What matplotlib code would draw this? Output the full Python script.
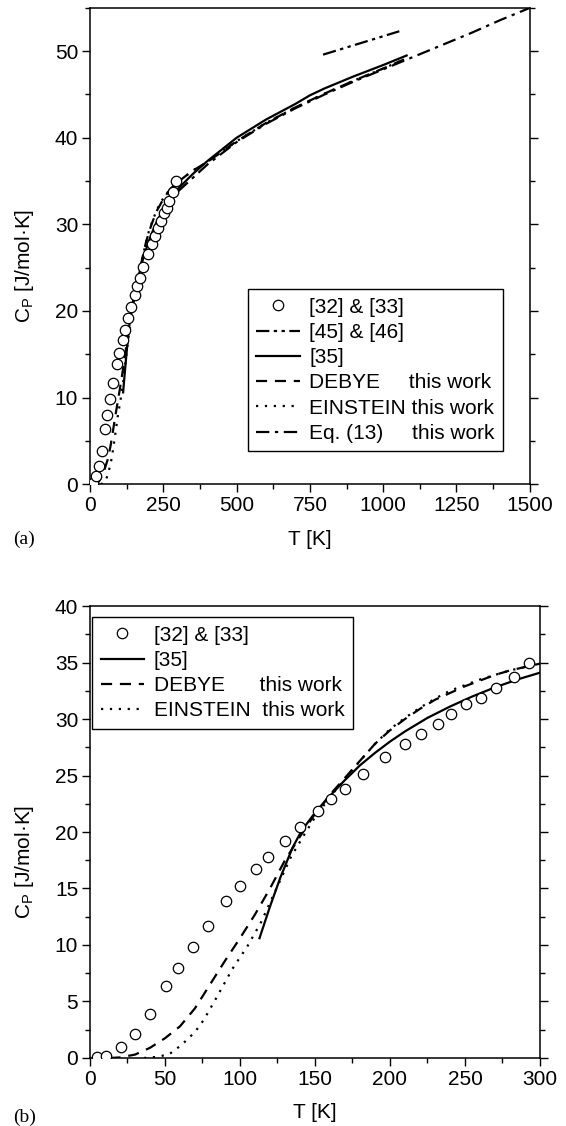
import numpy as np
import matplotlib
matplotlib.use("Agg")
from matplotlib import pyplot as plt
from matplotlib.ticker import MultipleLocator

plt.rcParams['font.family'] = ['Liberation Sans', 'DejaVu Sans']
plt.rcParams['mathtext.fontset'] = 'custom'
plt.rcParams['mathtext.rm'] = 'Liberation Sans'

# Data: experimental points [32] & [33]
exp_T = [5, 11, 21, 30, 40, 51, 59, 69, 79, 91, 100, 111, 119, 130, 140, 152,
         161, 170, 182, 197, 210, 221, 232, 241, 251, 261, 271, 283, 293]
exp_Cp = [0.06, 0.19, 0.96, 2.1, 3.85, 6.35, 7.98, 9.8, 11.7, 13.85, 15.2,
          16.7, 17.8, 19.2, 20.45, 21.9, 22.9, 23.8, 25.1, 26.6, 27.75, 28.7,
          29.6, 30.4, 31.3, 31.9, 32.7, 33.7, 35.0]

# [35]
ref35_T = [113, 120, 127, 135, 141, 150, 160, 170, 180, 190, 200, 210, 225,
           240, 255, 270, 285, 300, 350, 400, 500, 600, 700, 750, 800, 900,
           1000, 1080]
ref35_Cp = [10.6, 13.4, 16.0, 18.6, 20.1, 21.7, 23.2, 24.6, 25.9, 27.0, 28.0,
            28.9, 30.1, 31.1, 32.0, 32.8, 33.5, 34.1, 35.8, 37.3, 40.0, 42.1,
            43.9, 44.9, 45.7, 47.1, 48.4, 49.5]

# DEBYE (this work)
debye_T = [13, 20, 30, 40, 50, 60, 70, 80, 90, 100, 110, 120, 130, 140, 150,
           160, 170, 180, 190, 200, 210, 220, 230, 240, 250, 260, 270, 280,
           290, 300, 350, 400, 500, 600, 700, 800, 900, 1000, 1075]
debye_Cp = [0.0, 0.05, 0.3, 0.9, 1.75, 2.8, 4.4, 6.5, 8.6, 10.6, 12.7, 15.0,
            17.5, 19.6, 21.6, 23.3, 24.8, 26.3, 27.8, 29.0, 30.0, 30.9, 31.7,
            32.3, 32.9, 33.4, 33.9, 34.3, 34.6, 34.9, 36.2, 37.2, 39.6, 41.7,
            43.5, 45.1, 46.6, 48.0, 49.1]

# EINSTEIN (this work)
einstein_T = [36, 45, 53, 61, 70, 76, 85, 95, 105, 114, 124, 134, 143, 150,
              160, 170, 180, 190, 200, 210, 220, 230, 240, 250, 260, 270, 280,
              290, 300, 350, 400, 500, 600, 700, 800, 900, 1000, 1075]
einstein_Cp = [0.0, 0.1, 0.35, 1.15, 2.3, 3.4, 5.5, 7.9, 9.9, 12.0, 14.9,
               17.8, 19.8, 21.3, 23.1, 24.7, 26.3, 27.8, 29.1, 30.1, 31.0,
               31.8, 32.5, 33.0, 33.5, 33.9, 34.3, 34.6, 34.9, 36.2, 37.2,
               39.6, 41.7, 43.5, 45.1, 46.6, 48.0, 49.1]

# Eq. (13) (this work)
eq13_T = [300, 400, 500, 600, 700, 800, 900, 1000, 1100, 1200, 1300, 1400, 1500]
eq13_Cp = [33.8, 36.9, 39.5, 41.6, 43.4, 45.0, 46.5, 47.9, 49.3, 50.7, 52.1,
           53.6, 55.0]

# [45] & [46]
ref45_T = [795, 1055]
ref45_Cp = [49.6, 52.3]

FS = 15
LW = 1.6
STY_DEBYE = (0, (5, 3.5))
STY_EIN = (0, (1, 3))
STY_EQ = (0, (6, 2.5, 1.5, 2.5))
STY_45 = (0, (6, 2, 1.5, 2, 1.5, 2))
MK = dict(marker='o', ms=7.5, mfc='white', mec='black', mew=0.9, ls='none')
LEG = dict(borderaxespad=0, fontsize=FS, handlelength=2.1, handletextpad=0.45,
           labelspacing=0.3, borderpad=0.4, fancybox=False,
           edgecolor='black', framealpha=1)


def style_axes(ax, xmaj, xmin, ymaj, ymin, ylab_pos):
    for s in ax.spines.values():
        s.set_linewidth(1.1)
    ax.xaxis.set_major_locator(MultipleLocator(xmaj))
    ax.xaxis.set_minor_locator(MultipleLocator(xmin))
    ax.yaxis.set_major_locator(MultipleLocator(ymaj))
    ax.yaxis.set_minor_locator(MultipleLocator(ymin))
    ax.tick_params(which='both', direction='out', right=True, top=False,
                   labelsize=FS, width=1.0, pad=2.5)
    ax.tick_params(which='major', length=6)
    ax.tick_params(which='minor', length=3.5)
    ax.set_xlabel('T [K]', fontsize=FS, labelpad=10.5)
    ax.set_ylabel(r'C$_\mathregular{P}$ [J/mol·K]', fontsize=FS)
    ax.yaxis.set_label_coords(*ylab_pos)


fig = plt.figure(figsize=(5.66, 11.26), dpi=100)

# (a)
ax1 = fig.add_axes([0.159, 0.570, 0.777, 0.423])
ax1.plot(exp_T, exp_Cp, label='[32] & [33]', zorder=5, **MK)
ax1.plot(ref45_T, ref45_Cp, color='black', lw=LW, ls=STY_45, label='[45] & [46]')
ax1.plot(ref35_T, ref35_Cp, color='black', lw=LW, label='[35]')
ax1.plot(debye_T, debye_Cp, color='black', lw=LW, ls=STY_DEBYE,
         label='DEBYE' + ' ' * 5 + 'this work')
ax1.plot(einstein_T, einstein_Cp, color='black', lw=LW, ls=STY_EIN,
         label='EINSTEIN this work')
ax1.plot(eq13_T, eq13_Cp, color='black', lw=LW, ls=STY_EQ,
         label='Eq. (13)' + ' ' * 5 + 'this work')
ax1.set_xlim(0, 1500)
ax1.set_ylim(0, 55)
style_axes(ax1, 250, 125, 10, 5, (-0.122, 0.458))
leg1 = ax1.legend(loc='lower right', bbox_to_anchor=(0.939, 0.069), **LEG)
leg1.get_frame().set_linewidth(1.0)
fig.text(0.023, 0.517, '(a)', family='Liberation Serif', fontsize=14,
         va='baseline')

# (b)
ax2 = fig.add_axes([0.159, 0.0604, 0.795, 0.4014])
ax2.plot(exp_T, exp_Cp, label='[32] & [33]', zorder=5, **MK)
ax2.plot(ref35_T, ref35_Cp, color='black', lw=LW, label='[35]')
ax2.plot(debye_T, debye_Cp, color='black', lw=LW, ls=STY_DEBYE,
         label='DEBYE' + ' ' * 6 + 'this work')
ax2.plot(einstein_T, einstein_Cp, color='black', lw=LW, ls=STY_EIN,
         label='EINSTEIN  this work')
ax2.set_xlim(0, 300)
ax2.set_ylim(0, 40)
style_axes(ax2, 50, 25, 5, 2.5, (-0.121, 0.434))
leg2 = ax2.legend(loc='upper left', bbox_to_anchor=(0.005, 0.975), **LEG)
leg2.get_frame().set_linewidth(1.0)
fig.text(0.023, 0.004, '(b)', family='Liberation Serif', fontsize=14,
         va='baseline')

fig.savefig('out.png', dpi=100)
